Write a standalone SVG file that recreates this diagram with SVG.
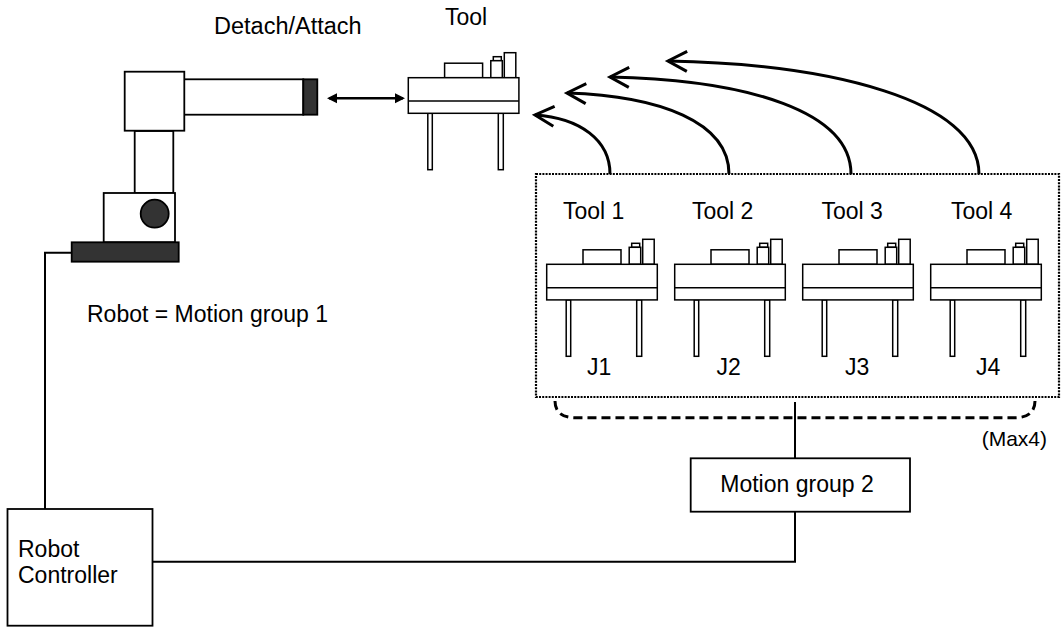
<svg xmlns="http://www.w3.org/2000/svg" width="1061" height="627" viewBox="0 0 1061 627">
  <style>
    .lbl { font-family: "Liberation Sans", Arial, sans-serif; font-size: 23px; fill: #000; }
    .big { font-size: 23.5px; }
    .small { font-size: 21px; }
    .part { fill: #fff; stroke: #000; stroke-width: 1.8; }
    .dark { fill: #333; stroke: #000; stroke-width: 1.8; }
    .tp { fill: #fff; stroke: #000; stroke-width: 1.5; }
    .wire { fill: none; stroke: #000; stroke-width: 2; }
    .swap { fill: none; stroke: #000; stroke-width: 3; }
  </style>
  <defs>
    <marker id="chevron" markerUnits="userSpaceOnUse" viewBox="-24 -14 30 28" markerWidth="30" markerHeight="28" refX="0" refY="0" orient="auto">
      <path d="M-19,-10 L0,0 L-19,10" fill="none" stroke="#000" stroke-width="3"/>
    </marker>
    <marker id="tri" markerUnits="userSpaceOnUse" viewBox="0 -6 10 12" markerWidth="10" markerHeight="12" refX="8" refY="0" orient="auto-start-reverse">
      <path d="M0,-5 L10,0 L0,5 Z" fill="#000"/>
    </marker>
    <!-- tool drawn from the top-left corner of its body -->
    <g id="tool-shape">
      <rect class="tp" x="19.5" y="35.6" width="4.5" height="56.4"/>
      <rect class="tp" x="90" y="35.6" width="5" height="56.4"/>
      <rect class="tp" x="36.3" y="-14.5" width="38" height="14.5"/>
      <rect class="tp" x="85" y="-21" width="8" height="4"/>
      <rect class="tp" x="82.5" y="-17" width="11.5" height="17"/>
      <rect class="tp" x="96" y="-25" width="11.5" height="25"/>
      <rect class="tp" x="0" y="0" width="110.6" height="35.6"/>
      <line x1="0" y1="23.4" x2="110.6" y2="23.4" stroke="#000" stroke-width="1.5"/>
    </g>
  </defs>

  <!-- connectors -->
  <g id="connectors">
    <path class="wire" d="M72,252.7 H45 V509"/>
    <path class="wire" d="M152.5,561.7 H795 V512"/>
    <path class="wire" d="M795,458.3 V402"/>
    <line x1="329" y1="98.3" x2="403" y2="98.3" stroke="#000" stroke-width="2.5" marker-start="url(#tri)" marker-end="url(#tri)"/>
    <path class="swap" d="M610,174 C610,140 580,118 535,115" marker-end="url(#chevron)"/>
    <path class="swap" d="M729,174 C729,122 660,96 567,93" marker-end="url(#chevron)"/>
    <path class="swap" d="M851,174 C851,112 750,80 610,77" marker-end="url(#chevron)"/>
    <path class="swap" d="M979,174 C979,100 830,64 668,61" marker-end="url(#chevron)"/>
  </g>

  <!-- robot arm -->
  <g id="robot">
    <rect class="part" x="184" y="79.3" width="119.3" height="35.4"/>
    <rect class="dark" x="303.3" y="79.3" width="14" height="35.4"/>
    <rect class="part" x="134.7" y="131" width="38.6" height="62"/>
    <rect class="part" x="124.7" y="71.7" width="59.6" height="59"/>
    <rect class="part" x="103.7" y="193" width="71.3" height="49.3"/>
    <circle class="dark" cx="154.7" cy="213.7" r="14"/>
    <rect class="dark" x="71.7" y="242.3" width="107" height="19.4"/>
    <text class="lbl" x="87" y="322">Robot = Motion group 1</text>
  </g>

  <g id="detach-label">
    <text class="lbl big" x="214" y="34">Detach/Attach</text>
  </g>

  <!-- tool mounted on the arm -->
  <g id="tool-top">
    <use href="#tool-shape" transform="translate(408.3,77.7)"/>
    <text class="lbl" x="445" y="25">Tool</text>
  </g>

  <!-- tool stand -->
  <g id="tool-stand">
    <rect x="536" y="174" width="523" height="223" fill="none" stroke="#000" stroke-width="2.2" stroke-dasharray="2 1.2"/>
    <path d="M555,401 C555,412 562,417.7 575,417.7 H1015 C1028,417.7 1035,412 1035,401" fill="none" stroke="#000" stroke-width="3" stroke-dasharray="9 5"/>
    <text class="lbl small" x="1047" y="446" text-anchor="end">(Max4)</text>
  </g>

  <g id="tool-1">
    <use href="#tool-shape" transform="translate(546.7,264.3)"/>
    <text class="lbl" x="563" y="219">Tool 1</text>
    <text class="lbl" x="587" y="375">J1</text>
  </g>
  <g id="tool-2">
    <use href="#tool-shape" transform="translate(674.7,264.3)"/>
    <text class="lbl" x="692" y="219">Tool 2</text>
    <text class="lbl" x="716.5" y="375">J2</text>
  </g>
  <g id="tool-3">
    <use href="#tool-shape" transform="translate(802.7,264.3)"/>
    <text class="lbl" x="821.5" y="219">Tool 3</text>
    <text class="lbl" x="845" y="375">J3</text>
  </g>
  <g id="tool-4">
    <use href="#tool-shape" transform="translate(930.7,264.3)"/>
    <text class="lbl" x="951" y="219">Tool 4</text>
    <text class="lbl" x="976" y="375">J4</text>
  </g>

  <g id="motion-group-2">
    <rect x="690.7" y="458.3" width="219.3" height="53.4" fill="#fff" stroke="#000" stroke-width="1.8"/>
    <text class="lbl" x="797" y="492" text-anchor="middle">Motion group 2</text>
  </g>

  <g id="robot-controller">
    <rect x="7.5" y="509" width="145" height="116.7" fill="#fff" stroke="#000" stroke-width="1.8"/>
    <text class="lbl" x="18" y="556.7">Robot</text>
    <text class="lbl" x="18" y="583.3">Controller</text>
  </g>
</svg>
